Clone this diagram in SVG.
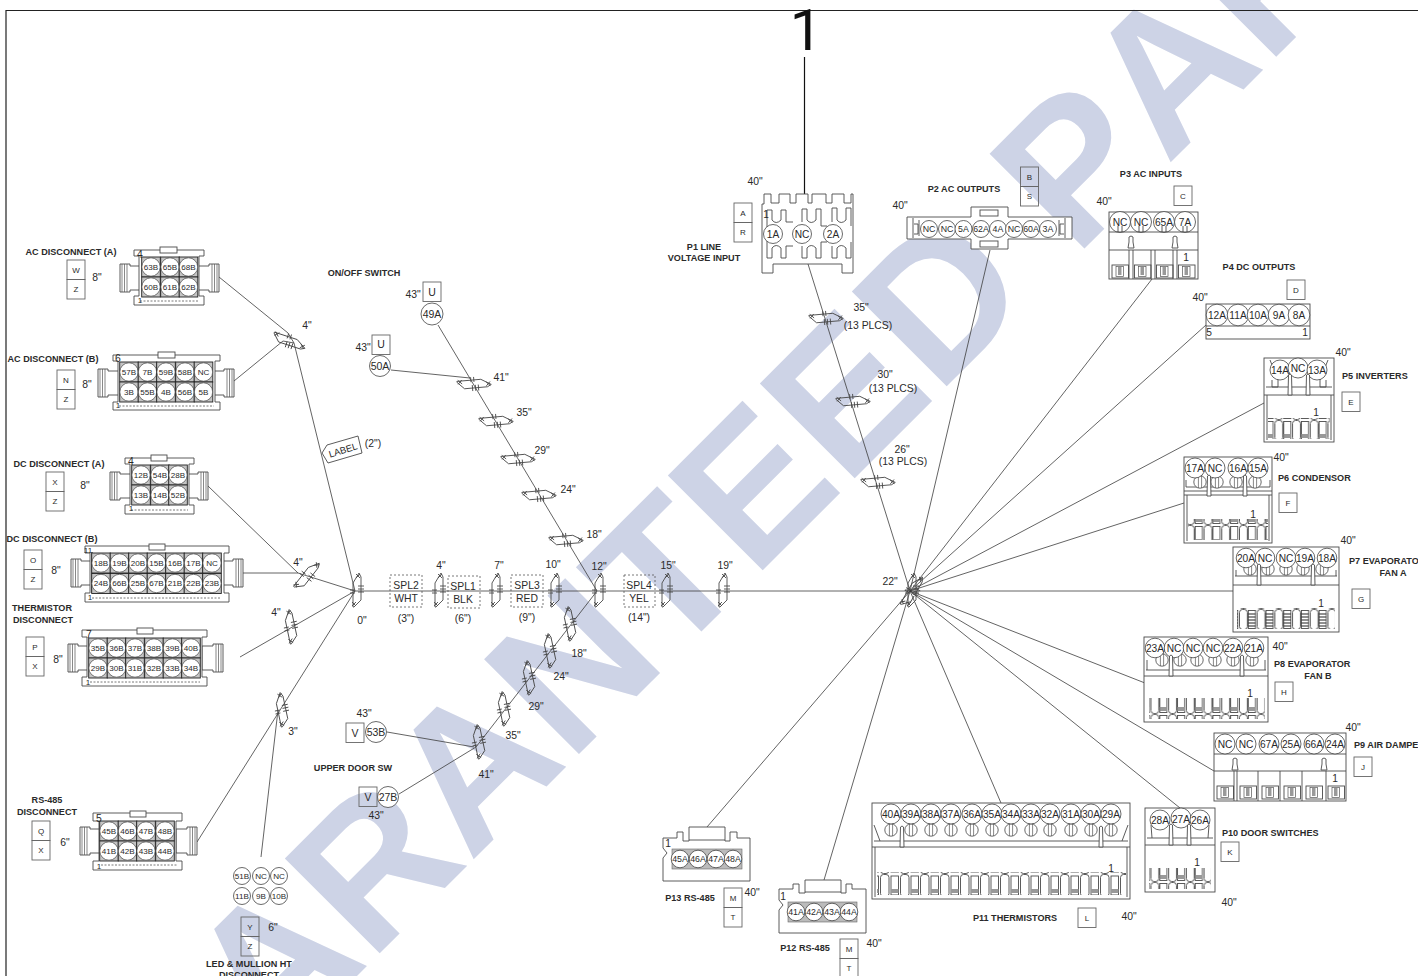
<svg xmlns="http://www.w3.org/2000/svg" xmlns:xlink="http://www.w3.org/1999/xlink" width="1418" height="976" viewBox="0 0 1418 976">
<style>
text{font-family:"Liberation Sans",Arial,sans-serif;text-anchor:middle;dominant-baseline:central;fill:#2a2a2a}
.d{font-size:10.4px}.b{font-size:9.1px;font-weight:bold}.k{font-size:8px}.u{font-size:10.5px}.s{font-size:8.1px}.m{font-size:8.8px}.n{font-size:10.2px}.l{text-anchor:start}
.w{fill:none;stroke:#3c3c3c;stroke-width:.8}
.o{fill:none;stroke:#4a4a4a;stroke-width:.9}
.f{fill:#fff;stroke:#4a4a4a;stroke-width:.9}
.c{fill:#fff;stroke:#444;stroke-width:.8}
.h{fill:none;stroke:#555;stroke-width:.7}
.dash{fill:none;stroke:#555;stroke-width:.8;stroke-dasharray:2 1.5}
.lab{fill:none;stroke:#666;stroke-width:.9}
</style>
<defs>
<g id="tie"><path class="o" d="M-2,-8L4,-18L6,-14V9L-1,16H-2ZM1,-17L5,-13M5,-17L1,-13M-3,11L1,15M1,11L-3,15M3,-5H9M3,-2H9M3,1H9M-5,-1H0M-5,2H0"/></g>
<rect id="bx" width="18" height="19.5" class="lab"/>
<g id="cell"><rect x="-9.3" y="-10" width="18.6" height="20" fill="#c4c4c4" stroke="#222" stroke-width=".9"/><circle r="9.2" fill="#fff" stroke="#444" stroke-width=".7"/></g>
<g id="ear"><path class="f" d="M0,-12H-11V-14H-21V14H-11V12H0Z"/><path class="h" d="M-19,-14V14M-16.500,-14V14M-14,-14V14"/></g>
<g id="pin"><circle r="6.2" class="c"/><path class="h" d="M-1.6,-8V6M1.6,-8V6"/></g>
<path id="lat" class="f" d="M-1.5,-10Q0,-12 1.5,-10L2,10H-2Z"/>
<g id="tm"><rect width="16.5" height="13" class="o"/><rect x="4" y="1.5" width="7.5" height="10" class="h"/><rect x="6" y="2" width="3.5" height="8" fill="#999"/></g>
<g id="ltc"><path class="f" d="M-2,-3V-8Q0,-10 2,-8V-3L3,3H-3Z"/></g>
<pattern id="strip" patternUnits="userSpaceOnUse" width="17.7" height="21"><rect x=".5" y=".5" width="7.8" height="20" rx="3" class="o"/><rect x="9.3" y="1.5" width="7.2" height="18" class="o"/><rect x="9.3" y="14" width="7.2" height="4" fill="#999"/></pattern>
<pattern id="strip2" patternUnits="userSpaceOnUse" width="17.7" height="21"><rect x=".5" y=".5" width="7.8" height="20" rx="3" class="o"/><rect x="9.3" y="1.5" width="7.2" height="18" class="o"/><path d="M9.3,5H16.5M9.3,8H16.5M9.3,11H16.5M9.3,14H16.5M9.3,17H16.5" stroke="#222" stroke-width="1.2"/></pattern>
<pattern id="strip3" patternUnits="userSpaceOnUse" width="20" height="23"><rect x=".5" y=".5" width="8.5" height="22" rx="3" class="o"/><rect x="11" y="2" width="7.5" height="19" class="o"/><rect x="11" y="15" width="7.5" height="4" fill="#999"/></pattern>
</defs>

<text id="watermark" transform="translate(271,1062) rotate(-45)" style="text-anchor:start;dominant-baseline:auto;font-size:195px;font-weight:bold;font-kerning:none;fill:#cdd3e6">ARANTEED PART</text>

<path d="M6,976V10.500H1418" fill="none" stroke="#222" stroke-width="1.2"/>
<text x="806" y="30" style="font-family:Roboto,sans-serif;font-size:58px;fill:#111">1</text>

<g id="connectors">
<path d="M804.500,57V206" stroke="#111" stroke-width="1.2"/>
<path class="w" d="M355,591H1233M294,343L355,591M219,277L288,333M234,381L283,341M288,333L294,343M283,341L294,343M208,486L298,573M243,573H298M298,573L355,591M240,657L355,591M197,842L355,591M261,857L278,710"/>
<path class="w" d="M438,325L597,591M391,370L470,378M597,591L476,747M387,732L474,747M399,794L476,747"/>
<path class="w" d="M808,264L910,591M990,250L910,591M1152,279L910,591M1206,325L910,591M1264,403L910,591M1184,503L910,591M1145,683L910,591M1214,771L910,591M1180,808L910,591M1001,803L910,591M824,880L910,591M707,827L910,591"/>
<use xlink:href="#tie" transform="translate(355,591)"/><use xlink:href="#tie" transform="translate(437,591)"/><use xlink:href="#tie" transform="translate(494,591)"/><use xlink:href="#tie" transform="translate(553,591)"/><use xlink:href="#tie" transform="translate(597,591)"/><use xlink:href="#tie" transform="translate(664,591)"/><use xlink:href="#tie" transform="translate(721,591)"/><use xlink:href="#tie" transform="translate(910,591)"/><use xlink:href="#tie" transform="translate(910,591) rotate(30)"/>
<use xlink:href="#tie" transform="translate(289,339) rotate(108)"/><use xlink:href="#tie" transform="translate(305,575) rotate(38)"/><use xlink:href="#tie" transform="translate(289,628) rotate(-12)"/><use xlink:href="#tie" transform="translate(280,711) rotate(-12)"/>
<use xlink:href="#tie" transform="translate(473,382) rotate(85)"/><use xlink:href="#tie" transform="translate(495,419) rotate(85)"/><use xlink:href="#tie" transform="translate(517,457) rotate(85)"/><use xlink:href="#tie" transform="translate(538,493) rotate(85)"/><use xlink:href="#tie" transform="translate(565,538) rotate(85)"/>
<use xlink:href="#tie" transform="translate(568,625) rotate(-12)"/><use xlink:href="#tie" transform="translate(548,652) rotate(-12)"/><use xlink:href="#tie" transform="translate(527,679) rotate(-12)"/><use xlink:href="#tie" transform="translate(502,710) rotate(-12)"/><use xlink:href="#tie" transform="translate(477,743) rotate(-12)"/>
<use xlink:href="#tie" transform="translate(825,316) rotate(85)"/><use xlink:href="#tie" transform="translate(852,399) rotate(85)"/><use xlink:href="#tie" transform="translate(877,480) rotate(85)"/>
</g>

<g id="ac-disconnect-a">
<text class="b" x="71" y="252">AC DISCONNECT (A)</text>
<use xlink:href="#bx" x="67" y="260"/><use xlink:href="#bx" x="67" y="279.500"/><text class="k" x="76" y="270">W</text><text class="k" x="76" y="289">Z</text><text class="d" x="97" y="277">8"</text>
<use xlink:href="#ear" transform="translate(141,278)"/><use xlink:href="#ear" transform="translate(198,278) scale(-1,1)"/>
<path class="f" d="M134,250H204V256H199V296H204V305H134V296H139V256H134Z"/><rect class="f" x="160" y="247" width="17" height="6"/><path class="dash" d="M140,301H198"/>
<use xlink:href="#cell" x="151" y="267"/><use xlink:href="#cell" x="170" y="267"/><use xlink:href="#cell" x="188.500" y="267"/><use xlink:href="#cell" x="151" y="287"/><use xlink:href="#cell" x="170" y="287"/><use xlink:href="#cell" x="188.500" y="287"/>
<g class="s"><text class="s" x="151" y="267">63B</text><text class="s" x="170" y="267">65B</text><text class="s" x="188.500" y="267">68B</text><text class="s" x="151" y="287">60B</text><text class="s" x="170" y="287">61B</text><text class="s" x="188.500" y="287">62B</text></g>
<text class="d" x="140" y="254">4</text><text class="s" x="140" y="300">1</text>
</g>

<g id="ac-disconnect-b">
<text class="b" x="53" y="359">AC DISCONNECT (B)</text>
<use xlink:href="#bx" x="57" y="370"/><use xlink:href="#bx" x="57" y="389.500"/><text class="k" x="66" y="380">N</text><text class="k" x="66" y="399">Z</text><text class="d" x="87" y="384">8"</text>
<use xlink:href="#ear" transform="translate(119,383)"/><use xlink:href="#ear" transform="translate(213,383) scale(-1,1)"/>
<path class="f" d="M113,355H220V361H215V402H220V410H113V402H118V361H113Z"/><rect class="f" x="158" y="352" width="17" height="6"/><path class="dash" d="M119,406H214"/>
<use xlink:href="#cell" x="129" y="372"/><use xlink:href="#cell" x="147.500" y="372"/><use xlink:href="#cell" x="166" y="372"/><use xlink:href="#cell" x="185" y="372"/><use xlink:href="#cell" x="203.500" y="372"/><use xlink:href="#cell" x="129" y="392"/><use xlink:href="#cell" x="147.500" y="392"/><use xlink:href="#cell" x="166" y="392"/><use xlink:href="#cell" x="185" y="392"/><use xlink:href="#cell" x="203.500" y="392"/>
<text class="s" x="129" y="372">57B</text><text class="s" x="147.500" y="372">7B</text><text class="s" x="166" y="372">59B</text><text class="s" x="185" y="372">58B</text><text class="s" x="203.500" y="372">NC</text>
<text class="s" x="129" y="392">3B</text><text class="s" x="147.500" y="392">55B</text><text class="s" x="166" y="392">4B</text><text class="s" x="185" y="392">56B</text><text class="s" x="203.500" y="392">5B</text>
<text class="d" x="118" y="358">6</text><text class="s" x="118" y="405">1</text>
</g>

<g id="dc-disconnect-a">
<text class="b" x="59" y="464">DC DISCONNECT (A)</text>
<use xlink:href="#bx" x="46" y="472"/><use xlink:href="#bx" x="46" y="491.500"/><text class="k" x="55" y="482">X</text><text class="k" x="55" y="501">Z</text><text class="d" x="85" y="485">8"</text>
<use xlink:href="#ear" transform="translate(131,486)"/><use xlink:href="#ear" transform="translate(187,486) scale(-1,1)"/>
<path class="f" d="M125,458H194V464H189V505H194V514H125V505H130V464H125Z"/><rect class="f" x="151" y="455" width="16" height="6"/><path class="dash" d="M131,510H188"/>
<use xlink:href="#cell" x="141" y="475"/><use xlink:href="#cell" x="160" y="475"/><use xlink:href="#cell" x="178" y="475"/><use xlink:href="#cell" x="141" y="495"/><use xlink:href="#cell" x="160" y="495"/><use xlink:href="#cell" x="178" y="495"/>
<text class="s" x="141" y="475">12B</text><text class="s" x="160" y="475">54B</text><text class="s" x="178" y="475">28B</text><text class="s" x="141" y="495">13B</text><text class="s" x="160" y="495">14B</text><text class="s" x="178" y="495">52B</text>
<text class="d" x="131" y="461">4</text><text class="s" x="131" y="508">1</text>
</g>

<g id="dc-disconnect-b">
<text class="b" x="52" y="539">DC DISCONNECT (B)</text>
<use xlink:href="#bx" x="24" y="550"/><use xlink:href="#bx" x="24" y="569.500"/><text class="k" x="33" y="560">O</text><text class="k" x="33" y="579">Z</text><text class="d" x="56" y="570">8"</text>
<use xlink:href="#ear" transform="translate(92,573)"/><use xlink:href="#ear" transform="translate(222,573) scale(-1,1)"/>
<path class="f" d="M85,546H229V553H224V593H229V602H85V593H90V553H85Z"/><rect class="f" x="149" y="544" width="16" height="6"/><path class="dash" d="M92,598H221"/><path d="M92,552V593" stroke="#111" stroke-width="1"/>
<use xlink:href="#cell" x="101" y="563"/><use xlink:href="#cell" x="119.500" y="563"/><use xlink:href="#cell" x="138" y="563"/><use xlink:href="#cell" x="156.500" y="563"/><use xlink:href="#cell" x="175" y="563"/><use xlink:href="#cell" x="193.500" y="563"/><use xlink:href="#cell" x="212" y="563"/>
<use xlink:href="#cell" x="101" y="583.500"/><use xlink:href="#cell" x="119.500" y="583.500"/><use xlink:href="#cell" x="138" y="583.500"/><use xlink:href="#cell" x="156.500" y="583.500"/><use xlink:href="#cell" x="175" y="583.500"/><use xlink:href="#cell" x="193.500" y="583.500"/><use xlink:href="#cell" x="212" y="583.500"/>
<text class="s" x="101" y="563">18B</text><text class="s" x="119.500" y="563">19B</text><text class="s" x="138" y="563">20B</text><text class="s" x="156.500" y="563">15B</text><text class="s" x="175" y="563">16B</text><text class="s" x="193.500" y="563">17B</text><text class="s" x="212" y="563">NC</text>
<text class="s" x="101" y="583.500">24B</text><text class="s" x="119.500" y="583.500">66B</text><text class="s" x="138" y="583.500">25B</text><text class="s" x="156.500" y="583.500">67B</text><text class="s" x="175" y="583.500">21B</text><text class="s" x="193.500" y="583.500">22B</text><text class="s" x="212" y="583.500">23B</text>
<text class="s" x="88" y="550">11</text><text class="s" x="90" y="597">1</text>
</g>

<g id="thermistor-disconnect">
<text class="b" x="42" y="608">THERMISTOR</text><text class="b" x="43" y="620">DISCONNECT</text>
<use xlink:href="#bx" x="26" y="637"/><use xlink:href="#bx" x="26" y="656.500"/><text class="k" x="35" y="647">P</text><text class="k" x="35" y="666">X</text><text class="d" x="58" y="659">8"</text>
<use xlink:href="#ear" transform="translate(89,658)"/><use xlink:href="#ear" transform="translate(202,658) scale(-1,1)"/>
<path class="f" d="M82,630H207V637H202V677H207V686H82V677H87V637H82Z"/><rect class="f" x="137" y="628" width="16" height="6"/><path class="dash" d="M90,682H200"/>
<use xlink:href="#cell" x="98" y="648"/><use xlink:href="#cell" x="116.500" y="648"/><use xlink:href="#cell" x="135" y="648"/><use xlink:href="#cell" x="154" y="648"/><use xlink:href="#cell" x="172.500" y="648"/><use xlink:href="#cell" x="191" y="648"/>
<use xlink:href="#cell" x="98" y="668"/><use xlink:href="#cell" x="116.500" y="668"/><use xlink:href="#cell" x="135" y="668"/><use xlink:href="#cell" x="154" y="668"/><use xlink:href="#cell" x="172.500" y="668"/><use xlink:href="#cell" x="191" y="668"/>
<text class="s" x="98" y="648">35B</text><text class="s" x="116.500" y="648">36B</text><text class="s" x="135" y="648">37B</text><text class="s" x="154" y="648">38B</text><text class="s" x="172.500" y="648">39B</text><text class="s" x="191" y="648">40B</text>
<text class="s" x="98" y="668">29B</text><text class="s" x="116.500" y="668">30B</text><text class="s" x="135" y="668">31B</text><text class="s" x="154" y="668">32B</text><text class="s" x="172.500" y="668">33B</text><text class="s" x="191" y="668">34B</text>
<text class="d" x="89" y="634">7</text><text class="s" x="88" y="682">1</text>
</g>

<g id="rs485-disconnect">
<text class="b" x="47" y="800">RS-485</text><text class="b" x="47" y="812">DISCONNECT</text>
<use xlink:href="#bx" x="32" y="821"/><use xlink:href="#bx" x="32" y="840.500"/><text class="k" x="41" y="831">Q</text><text class="k" x="41" y="850">X</text><text class="d" x="65" y="842">6"</text>
<use xlink:href="#ear" transform="translate(101,841)"/><use xlink:href="#ear" transform="translate(176,841) scale(-1,1)"/>
<path class="f" d="M93,813H182V821H176V861H182V870H93V861H99V821H93Z"/><rect class="f" x="130" y="811" width="16" height="6"/><path class="dash" d="M101,865H177"/>
<use xlink:href="#cell" x="109" y="831"/><use xlink:href="#cell" x="127.500" y="831"/><use xlink:href="#cell" x="146" y="831"/><use xlink:href="#cell" x="165" y="831"/><use xlink:href="#cell" x="109" y="851"/><use xlink:href="#cell" x="127.500" y="851"/><use xlink:href="#cell" x="146" y="851"/><use xlink:href="#cell" x="165" y="851"/>
<text class="s" x="109" y="831">45B</text><text class="s" x="127.500" y="831">46B</text><text class="s" x="146" y="831">47B</text><text class="s" x="165" y="831">48B</text><text class="s" x="109" y="851">41B</text><text class="s" x="127.500" y="851">42B</text><text class="s" x="146" y="851">43B</text><text class="s" x="165" y="851">44B</text>
<text class="d" x="99" y="818">5</text><text class="s" x="99" y="866">1</text>
</g>

<g id="led-mullion">
<circle class="c" cx="242" cy="876" r="8.500"/><circle class="c" cx="261" cy="876" r="8.500"/><circle class="c" cx="279" cy="876" r="8.500"/><circle class="c" cx="242" cy="896" r="8.500"/><circle class="c" cx="261" cy="896" r="8.500"/><circle class="c" cx="279" cy="896" r="8.500"/>
<text class="s" x="242" y="876">51B</text><text class="s" x="261" y="876">NC</text><text class="s" x="279" y="876">NC</text><text class="s" x="242" y="896">11B</text><text class="s" x="261" y="896">9B</text><text class="s" x="279" y="896">10B</text>
<use xlink:href="#bx" x="241" y="917"/><use xlink:href="#bx" x="241" y="936.500"/><text class="k" x="250" y="927">Y</text><text class="k" x="250" y="946">Z</text><text class="d" x="273" y="927">6"</text>
<text class="b" x="249" y="964">LED &amp; MULLION HT</text><text class="b" x="249" y="975">DISCONNECT</text>
</g>

<g id="label-tag"><path class="f" style="fill:none" d="M322,453L327,445L358,436L362,453L328,463Z"/><text transform="translate(343,450) rotate(-17)" class="k" style="font-size:9.5px">LABEL</text><text class="d" x="373" y="443">(2")</text></g>

<g id="on-off-switch">
<text class="b" x="364" y="273">ON/OFF SWITCH</text>
<use xlink:href="#bx" x="423" y="282"/><use xlink:href="#bx" x="372" y="335"/><text class="u" x="432" y="292">U</text><text class="u" x="381" y="344">U</text>
<circle class="c" cx="432" cy="314" r="11"/><circle class="c" cx="380" cy="366" r="10.500"/><text class="u" x="432" y="314">49A</text><text class="u" x="380" y="366">50A</text>
<text class="d" x="413" y="294">43"</text><text class="d" x="363" y="347">43"</text>
</g>

<g id="upper-door-sw">
<text class="b" x="353" y="768">UPPER DOOR SW</text>
<use xlink:href="#bx" x="346" y="723"/><use xlink:href="#bx" x="359" y="787"/><text class="u" x="355" y="733">V</text><text class="u" x="368" y="797">V</text>
<circle class="c" cx="376" cy="732" r="10.500"/><circle class="c" cx="388" cy="797" r="10.500"/><text class="u" x="376" y="732">53B</text><text class="u" x="388" y="797">27B</text>
<text class="d" x="364" y="713">43"</text><text class="d" x="376" y="815">43"</text>
</g>

<g id="splices">
<rect class="dash" style="stroke-dasharray:2 2" x="390" y="575" width="32" height="32"/><text class="d" x="406" y="585">SPL2</text><text class="d" x="406" y="598">WHT</text><text class="d" x="406" y="618">(3")</text>
<rect class="dash" style="stroke-dasharray:2 2" x="448" y="576" width="32" height="32"/><text class="d" x="463" y="586">SPL1</text><text class="d" x="463" y="599">BLK</text><text class="d" x="463" y="618">(6")</text>
<rect class="dash" style="stroke-dasharray:2 2" x="511" y="575" width="32" height="32"/><text class="d" x="527" y="585">SPL3</text><text class="d" x="527" y="598">RED</text><text class="d" x="527" y="617">(9")</text>
<rect class="dash" style="stroke-dasharray:2 2" x="624" y="575" width="31" height="32"/><text class="d" x="639" y="585">SPL4</text><text class="d" x="639" y="598">YEL</text><text class="d" x="639" y="617">(14")</text>
</g>

<g id="dimensions">
<text class="d" x="307" y="325">4"</text><text class="d" x="298" y="562">4"</text><text class="d" x="276" y="612">4"</text><text class="d" x="293" y="731">3"</text>
<text class="d" x="362" y="620">0"</text><text class="d" x="441" y="565">4"</text><text class="d" x="499" y="565">7"</text><text class="d" x="553" y="564">10"</text><text class="d" x="599" y="566">12"</text><text class="d" x="668" y="565">15"</text><text class="d" x="725" y="565">19"</text><text class="d" x="890" y="581">22"</text>
<text class="d" x="501" y="377">41"</text><text class="d" x="524" y="412">35"</text><text class="d" x="542" y="450">29"</text><text class="d" x="568" y="489">24"</text><text class="d" x="594" y="534">18"</text>
<text class="d" x="579" y="653">18"</text><text class="d" x="561" y="676">24"</text><text class="d" x="536" y="706">29"</text><text class="d" x="513" y="735">35"</text><text class="d" x="486" y="774">41"</text>
<text class="d" x="861" y="307">35"</text><text class="d" x="868" y="325">(13 PLCS)</text><text class="d" x="885" y="374">30"</text><text class="d" x="893" y="388">(13 PLCS)</text><text class="d" x="902" y="449">26"</text><text class="d" x="903" y="461">(13 PLCS)</text>
</g>

<g id="p1">
<text class="b" x="704" y="247">P1 LINE</text><text class="b" x="704" y="258">VOLTAGE INPUT</text><text class="d" x="755" y="181">40"</text>
<use xlink:href="#bx" x="734" y="203"/><use xlink:href="#bx" x="734" y="222.500"/><text class="k" x="743" y="213">A</text><text class="k" x="743" y="232">R</text>
<path class="f" d="M762,273V204H764V194H771V203H779V194H790V203H796V194H808V203H812V194H826V203H832V194H844V203H851V194H853V273H842V264H773V273Z"/>
<path class="o" d="M767,228V210H772V220Q776,225 781,220V210H786V222H793M767,240V258H772V248Q776,243 781,248V258H786V246H793M802,222V209H807V220Q811,225 816,220V209H821V226H827M802,246V258H807V248Q811,243 816,248V258H821V242H827M832,222V208H837V220Q841,225 846,220V208H851V226M832,246V258H837V248Q841,243 846,248V258H851V242"/>
<circle class="c" cx="773" cy="234" r="9.500"/><circle class="c" cx="802" cy="234" r="9.500"/><circle class="c" cx="833" cy="234" r="9.500"/><text class="n" x="773" y="234">1A</text><text class="n" x="802" y="234">NC</text><text class="n" x="833" y="234">2A</text><text class="s" x="766" y="214" style="font-size:10px">1</text>
</g>

<g id="p2">
<text class="b" x="964" y="189">P2 AC OUTPUTS</text><text class="d" x="900" y="205">40"</text>
<use xlink:href="#bx" x="1020.500" y="167"/><use xlink:href="#bx" x="1020.500" y="186.500"/><text class="k" x="1029.500" y="177">B</text><text class="k" x="1029.500" y="196">S</text>
<path class="f" d="M907,217H971V207H1008V217H1072V239H1008V249H971V239H907Z"/><rect class="o" x="980" y="210" width="18" height="6"/><rect class="o" x="980" y="241" width="18" height="6"/><path class="o" d="M913,218V238M919,220V236M1065,218V238M1059,220V236M914,224H918V234H914M1064,224H1060V234H1064"/>
<circle class="c" cx="929" cy="229" r="8.500"/><circle class="c" cx="947" cy="229" r="8.500"/><circle class="c" cx="963.500" cy="229" r="8.500"/><circle class="c" cx="981" cy="229" r="8.500"/><circle class="c" cx="998" cy="229" r="8.500"/><circle class="c" cx="1014" cy="229" r="8.500"/><circle class="c" cx="1031" cy="229" r="8.500"/><circle class="c" cx="1048" cy="229" r="8.500"/>
<text class="m" x="929" y="229">NC</text><text class="m" x="947" y="229">NC</text><text class="m" x="963.500" y="229">5A</text><text class="m" x="981" y="229">62A</text><text class="m" x="998" y="229">4A</text><text class="m" x="1014" y="229">NC</text><text class="m" x="1031" y="229">60A</text><text class="m" x="1048" y="229">3A</text>
</g>

<g id="p3">
<text class="b" x="1151" y="174">P3 AC INPUTS</text><text class="d" x="1104" y="201">40"</text>
<use xlink:href="#bx" x="1174" y="186"/><text class="k" x="1183" y="196">C</text>
<rect class="f" x="1109" y="212" width="89" height="67"/>
<circle class="c" cx="1120" cy="222" r="10.500"/><circle class="c" cx="1141" cy="222" r="10.500"/><circle class="c" cx="1164" cy="222" r="10.500"/><circle class="c" cx="1185" cy="222" r="10.500"/>
<path class="o" d="M1109,232H1198M1109,250H1198M1129,250V279M1133,250V279M1151,250V279M1155,250V279M1173,250V279M1177,250V279M1118,226V232M1122,226V232M1139,226V232M1143,226V232M1162,226V232M1166,226V232M1183,226V232M1187,226V232"/>
<use xlink:href="#ltc" x="1131" y="245"/><use xlink:href="#ltc" x="1175" y="245"/>
<use xlink:href="#tm" x="1112" y="265"/><use xlink:href="#tm" x="1134.500" y="265"/><use xlink:href="#tm" x="1156.500" y="265"/><use xlink:href="#tm" x="1178.500" y="265"/>
<text class="n" x="1120" y="222">NC</text><text class="n" x="1141" y="222">NC</text><text class="n" x="1164" y="222">65A</text><text class="n" x="1185" y="222">7A</text><text class="n" x="1186" y="257">1</text>
</g>

<g id="p4">
<text class="b" x="1259" y="267">P4 DC OUTPUTS</text><text class="d" x="1200" y="297">40"</text>
<use xlink:href="#bx" x="1287" y="280"/><text class="k" x="1296" y="290">D</text>
<rect class="f" x="1206" y="304" width="104" height="35"/><path class="o" d="M1206,326H1310"/>
<circle class="c" cx="1217" cy="315" r="10.800"/><circle class="c" cx="1238" cy="315" r="10.800"/><circle class="c" cx="1258" cy="315" r="10.800"/><circle class="c" cx="1279" cy="315" r="10.800"/><circle class="c" cx="1299" cy="315" r="10.800"/>
<text class="n" x="1217" y="315">12A</text><text class="n" x="1238" y="315">11A</text><text class="n" x="1258" y="315">10A</text><text class="n" x="1279" y="315">9A</text><text class="n" x="1299" y="315">8A</text>
<text class="n" x="1209" y="332">5</text><text class="n" x="1305" y="332">1</text>
</g>

<g id="p5">
<text class="b l" x="1342" y="376">P5 INVERTERS</text><text class="d" x="1343" y="352">40"</text>
<use xlink:href="#bx" x="1342" y="392"/><text class="k" x="1351" y="402">E</text>
<rect class="f" x="1264" y="358" width="70" height="84"/><path class="o" d="M1266,387H1332M1264,395H1334M1267,395V440M1331,395V440M1270,360L1278,380V387H1272V380M1328,360L1320,380V387H1326V380"/>
<circle class="c" cx="1280" cy="370" r="10"/><circle class="c" cx="1298" cy="368" r="10"/><circle class="c" cx="1317" cy="370" r="10"/>
<use xlink:href="#lat" x="1290" y="385"/><use xlink:href="#lat" x="1308" y="385"/>
<rect x="1268" y="418" width="62" height="21" fill="url(#strip)"/>
<text class="n" x="1280" y="370">14A</text><text class="n" x="1298" y="368">NC</text><text class="n" x="1317" y="370">13A</text><text class="n" x="1316" y="412">1</text>
</g>

<g id="p6">
<text class="b l" x="1278" y="478">P6 CONDENSOR</text><text class="d" x="1281" y="457">40"</text>
<use xlink:href="#bx" x="1279" y="493"/><text class="k" x="1288" y="503">F</text>
<rect class="f" x="1184" y="457" width="88" height="86"/><path class="o" d="M1186,480V487M1270,480V487M1186,487H1270M1184,491H1272M1184,495H1272M1187,495V541M1269,495V541"/>
<use xlink:href="#pin" x="1200" y="482"/><use xlink:href="#pin" x="1217" y="482"/><use xlink:href="#pin" x="1236" y="482"/><use xlink:href="#pin" x="1255" y="482"/>
<circle class="c" cx="1195" cy="468" r="10"/><circle class="c" cx="1215" cy="468" r="10"/><circle class="c" cx="1238" cy="468" r="10"/><circle class="c" cx="1258" cy="468" r="10"/>
<use xlink:href="#lat" x="1209" y="486"/><use xlink:href="#lat" x="1245" y="486"/>
<rect x="1188" y="519" width="80" height="21" fill="url(#strip)"/>
<text class="n" x="1195" y="468">17A</text><text class="n" x="1215" y="468">NC</text><text class="n" x="1238" y="468">16A</text><text class="n" x="1258" y="468">15A</text><text class="n" x="1253" y="514">1</text>
</g>

<g id="p7">
<text class="b l" x="1349" y="561">P7 EVAPORATO</text><text class="b" x="1393" y="573">FAN A</text><text class="d" x="1348" y="540">40"</text>
<use xlink:href="#bx" x="1352" y="589"/><text class="k" x="1361" y="599">G</text>
<rect class="f" x="1233" y="547" width="106" height="85" stroke-width="1.2"/><path class="o" d="M1236,570V576M1336,570V576M1235,576H1337M1233,585H1339"/>
<use xlink:href="#pin" x="1250" y="569"/><use xlink:href="#pin" x="1268" y="569"/><use xlink:href="#pin" x="1286" y="569"/><use xlink:href="#pin" x="1303" y="569"/><use xlink:href="#pin" x="1322" y="569"/>
<circle class="c" cx="1246" cy="558" r="9.800"/><circle class="c" cx="1265" cy="558" r="9.800"/><circle class="c" cx="1286" cy="558" r="9.800"/><circle class="c" cx="1305" cy="558" r="9.800"/><circle class="c" cx="1327" cy="558" r="9.800"/>
<use xlink:href="#lat" x="1259" y="575"/><use xlink:href="#lat" x="1313" y="575"/>
<rect x="1237" y="608" width="98" height="21" fill="url(#strip2)"/>
<text class="n" x="1246" y="558">20A</text><text class="n" x="1265" y="558">NC</text><text class="n" x="1286" y="558">NC</text><text class="n" x="1305" y="558">19A</text><text class="n" x="1327" y="558">18A</text><text class="n" x="1321" y="603">1</text>
</g>

<g id="p8">
<text class="b l" x="1274" y="664">P8 EVAPORATOR</text><text class="b" x="1318" y="676">FAN B</text><text class="d" x="1280" y="646">40"</text>
<use xlink:href="#bx" x="1275" y="682"/><text class="k" x="1284" y="692">H</text>
<rect class="f" x="1144" y="637" width="124" height="85"/><path class="o" d="M1147,660V670M1265,660V670M1146,670H1266M1144,676H1268"/>
<use xlink:href="#pin" x="1162" y="660"/><use xlink:href="#pin" x="1180" y="660"/><use xlink:href="#pin" x="1197" y="660"/><use xlink:href="#pin" x="1215" y="660"/><use xlink:href="#pin" x="1233" y="660"/><use xlink:href="#pin" x="1252" y="660"/>
<circle class="c" cx="1155" cy="648" r="9.800"/><circle class="c" cx="1174" cy="648" r="9.800"/><circle class="c" cx="1193" cy="648" r="9.800"/><circle class="c" cx="1213" cy="648" r="9.800"/><circle class="c" cx="1233" cy="648" r="9.800"/><circle class="c" cx="1254" cy="648" r="9.800"/>
<use xlink:href="#lat" x="1171" y="666"/><use xlink:href="#lat" x="1242" y="666"/>
<rect x="1149" y="698" width="116" height="21" fill="url(#strip)"/>
<text class="n" x="1155" y="648">23A</text><text class="n" x="1174" y="648">NC</text><text class="n" x="1193" y="648">NC</text><text class="n" x="1213" y="648">NC</text><text class="n" x="1233" y="648">22A</text><text class="n" x="1254" y="648">21A</text><text class="n" x="1250" y="693">1</text>
</g>

<g id="p9">
<text class="b l" x="1354" y="745">P9 AIR DAMPE</text><text class="d" x="1353" y="727">40"</text>
<use xlink:href="#bx" x="1354" y="757"/><text class="k" x="1363" y="767">J</text>
<rect class="f" x="1214" y="733" width="132" height="68"/><path class="o" d="M1214,754H1346M1214,771H1346M1234,771V801M1237,771V801M1258,771V801M1280,771V801M1302,771V801M1326,771V801"/>
<circle class="c" cx="1225" cy="744" r="10"/><circle class="c" cx="1246" cy="744" r="10"/><circle class="c" cx="1269" cy="744" r="10"/><circle class="c" cx="1291" cy="744" r="10"/><circle class="c" cx="1314" cy="744" r="10"/><circle class="c" cx="1335" cy="744" r="10"/>
<use xlink:href="#ltc" x="1235" y="767"/><use xlink:href="#ltc" x="1324" y="767"/>
<use xlink:href="#tm" x="1217" y="786"/><use xlink:href="#tm" x="1240" y="786"/><use xlink:href="#tm" x="1262" y="786"/><use xlink:href="#tm" x="1284" y="786"/><use xlink:href="#tm" x="1306" y="786"/><use xlink:href="#tm" x="1328" y="786"/>
<text class="n" x="1225" y="744">NC</text><text class="n" x="1246" y="744">NC</text><text class="n" x="1269" y="744">67A</text><text class="n" x="1291" y="744">25A</text><text class="n" x="1314" y="744">66A</text><text class="n" x="1335" y="744">24A</text><text class="n" x="1335" y="778">1</text>
</g>

<g id="p10">
<text class="b l" x="1222" y="833">P10 DOOR SWITCHES</text><text class="d" x="1229" y="902">40"</text>
<use xlink:href="#bx" x="1221" y="842"/><text class="k" x="1230" y="852">K</text>
<rect class="f" x="1145" y="808" width="70" height="84"/><path class="o" d="M1147,838H1213M1145,845H1215M1151,825L1152,838M1209,825L1208,838"/>
<circle class="c" cx="1160" cy="820" r="10"/><circle class="c" cx="1181" cy="818" r="10"/><circle class="c" cx="1200" cy="820" r="10"/>
<use xlink:href="#lat" x="1171" y="835"/><use xlink:href="#lat" x="1189" y="835"/>
<rect x="1149" y="868" width="62" height="21" fill="url(#strip)"/>
<text class="n" x="1160" y="820">28A</text><text class="n" x="1181" y="819">27A</text><text class="n" x="1200" y="820">26A</text><text class="n" x="1197" y="862">1</text>
</g>

<g id="p11">
<text class="b" x="1015" y="918">P11 THERMISTORS</text><text class="d" x="1129" y="916">40"</text>
<use xlink:href="#bx" x="1078" y="908"/><text class="k" x="1087" y="918">L</text>
<rect class="f" x="872" y="803" width="258" height="96"/><path class="o" d="M874,841H1128M872,847H1130M874,825L880,841M1128,825L1122,841M875,847V897M1127,847V897"/>
<use xlink:href="#pin" x="891" y="830"/><use xlink:href="#pin" x="911" y="830"/><use xlink:href="#pin" x="931" y="830"/><use xlink:href="#pin" x="951" y="830"/><use xlink:href="#pin" x="972" y="830"/><use xlink:href="#pin" x="992" y="830"/><use xlink:href="#pin" x="1011" y="830"/><use xlink:href="#pin" x="1031" y="830"/><use xlink:href="#pin" x="1050" y="830"/><use xlink:href="#pin" x="1071" y="830"/><use xlink:href="#pin" x="1091" y="830"/><use xlink:href="#pin" x="1111" y="830"/>
<circle class="c" cx="891" cy="814" r="10"/><circle class="c" cx="911" cy="814" r="10"/><circle class="c" cx="931" cy="814" r="10"/><circle class="c" cx="951" cy="814" r="10"/><circle class="c" cx="972" cy="814" r="10"/><circle class="c" cx="992" cy="814" r="10"/><circle class="c" cx="1011" cy="814" r="10"/><circle class="c" cx="1031" cy="814" r="10"/><circle class="c" cx="1050" cy="814" r="10"/><circle class="c" cx="1071" cy="814" r="10"/><circle class="c" cx="1091" cy="814" r="10"/><circle class="c" cx="1111" cy="814" r="10"/>
<use xlink:href="#lat" x="902" y="837"/><use xlink:href="#lat" x="1101" y="837"/>
<rect x="877" y="872" width="249" height="23" fill="url(#strip3)"/>
<text class="n" x="891" y="814">40A</text><text class="n" x="911" y="814">39A</text><text class="n" x="931" y="814">38A</text><text class="n" x="951" y="814">37A</text><text class="n" x="972" y="814">36A</text><text class="n" x="992" y="814">35A</text><text class="n" x="1011" y="814">34A</text><text class="n" x="1031" y="814">33A</text><text class="n" x="1050" y="814">32A</text><text class="n" x="1071" y="814">31A</text><text class="n" x="1091" y="814">30A</text><text class="n" x="1111" y="814">29A</text><text class="n" x="1111" y="868">1</text>
</g>

<g id="p12">
<text class="b" x="805" y="948">P12 RS-485</text><text class="d" x="874" y="943">40"</text>
<use xlink:href="#bx" x="840" y="939"/><use xlink:href="#bx" x="840" y="958.500"/><text class="k" x="849" y="949">M</text><text class="k" x="849" y="968">T</text>
<path class="f" d="M779,889H793V884H799V893H805V880H841V893H846V884H852V889H866V933H779V910L783,905L779,900Z"/><path class="o" d="M805,892H841"/>
<rect x="788" y="902" width="69" height="20" fill="#bbb" stroke="#666" stroke-width=".6"/>
<circle class="c" cx="796" cy="912" r="8.800"/><circle class="c" cx="814" cy="912" r="8.800"/><circle class="c" cx="832" cy="912" r="8.800"/><circle class="c" cx="849" cy="912" r="8.800"/>
<text class="m" x="796" y="912">41A</text><text class="m" x="814" y="912">42A</text><text class="m" x="832" y="912">43A</text><text class="m" x="849" y="912">44A</text><text class="n" x="783" y="896">1</text>
</g>

<g id="p13">
<text class="b" x="690" y="898">P13 RS-485</text><text class="d" x="752" y="892">40"</text>
<use xlink:href="#bx" x="724" y="888"/><use xlink:href="#bx" x="724" y="907.500"/><text class="k" x="733" y="898">M</text><text class="k" x="733" y="917">T</text>
<path class="f" d="M663,838H677V832H683V841H689V827H725V841H730V832H737V838H750V881H663V858L667,853L663,848Z"/><path class="o" d="M689,840H725"/>
<rect x="672" y="849" width="70" height="20" fill="#bbb" stroke="#666" stroke-width=".6"/>
<circle class="c" cx="680" cy="859" r="8.800"/><circle class="c" cx="698" cy="859" r="8.800"/><circle class="c" cx="716" cy="859" r="8.800"/><circle class="c" cx="733" cy="859" r="8.800"/>
<text class="m" x="680" y="859">45A</text><text class="m" x="698" y="859">46A</text><text class="m" x="716" y="859">47A</text><text class="m" x="733" y="859">48A</text><text class="n" x="668" y="843">1</text>
</g>
</svg>
